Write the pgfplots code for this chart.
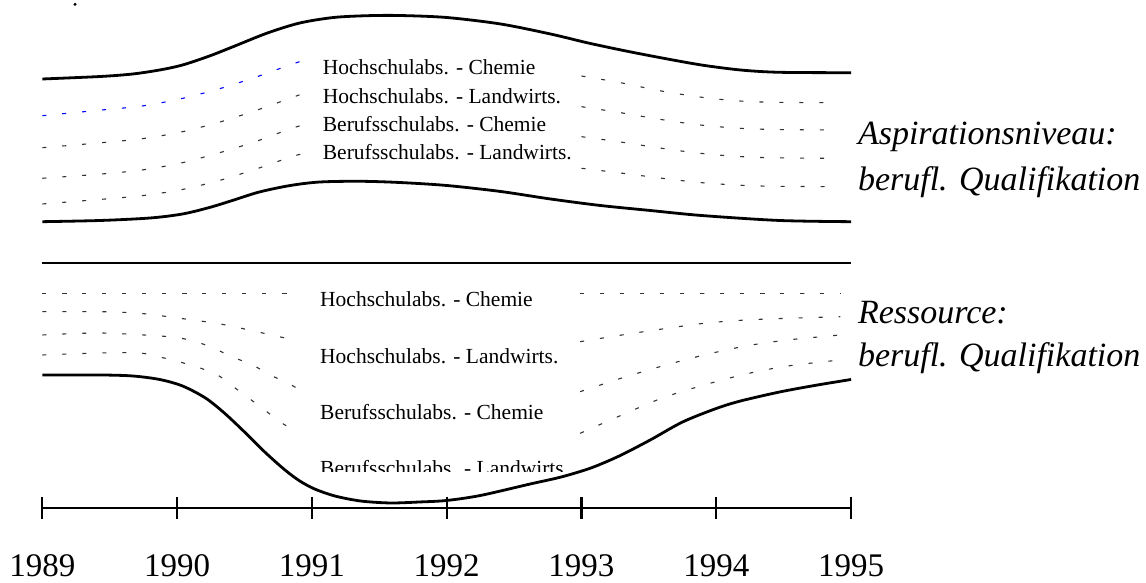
\documentclass[border=0pt]{standalone}
\usepackage{fontspec}
\setmainfont{Liberation Serif}
\usepackage{pgfplots}
\pgfplotsset{compat=1.18}

\pgfplotsset{
  band/.style={black, line width=2.8pt, smooth, no markers},
  row/.style={black!80, line width=1.1pt, dash pattern=on 4pt off 16pt, smooth, no markers},
}
\newcommand{\lab}{\fontsize{21.5}{24}\selectfont}
\newcommand{\biglab}{\fontsize{34}{40}\selectfont\itshape}

\begin{document}
\begin{tikzpicture}
\begin{axis}[
  scale only axis, width=1146pt, height=583pt,
  xmin=1988.686, xmax=1997.188, ymin=0, ymax=583, y dir=reverse,
  hide axis, clip=false,
]
% frame of the page
\addplot[draw=none] coordinates {(1988.686,0) (1997.188,583)};

% --- Aspirationsniveau band ---
\addplot[band] coordinates {
  (1989.00,79) (1989.43,76.5) (1989.67,74) (1989.87,70) (1990.04,65) (1990.24,56)
  (1990.41,47) (1990.67,33) (1990.91,23) (1991.16,17.5) (1991.41,15.7) (1991.65,15.5)
  (1992.00,17.5) (1992.40,24) (1992.77,34) (1993.05,43) (1993.33,51) (1993.61,58.3)
  (1993.89,65) (1994.18,70) (1994.47,72.3) (1995.00,72.7)};
\addplot[band] coordinates {
  (1989.00,221.7) (1989.43,220.5) (1989.80,218) (1990.04,214) (1990.24,207.5) (1990.41,200.5)
  (1990.61,192) (1990.84,185.5) (1991.06,182) (1991.36,181.3) (1991.65,182.5) (1992.00,185.5)
  (1992.40,191.5) (1992.77,199) (1993.14,205.5) (1993.51,210.5) (1993.89,215.5)
  (1994.47,220.5) (1995.00,221.7)};

\addplot[row, blue] coordinates {
  (1989.00,115.7) (1989.44,110) (1989.74,106) (1990.02,99) (1990.30,89.3) (1990.58,77.3) (1990.85,64.3) (1990.99,58.3)};
\addplot[row] coordinates {
  (1989.00,147.7) (1989.44,142.7) (1989.74,138.7) (1990.02,132.3) (1990.30,122.7) (1990.58,110.7) (1990.85,97.7) (1990.99,90.7)};
\addplot[row] coordinates {
  (1989.00,178.3) (1989.44,174) (1989.74,170) (1990.02,163.3) (1990.30,153.3) (1990.58,141.7) (1990.85,128.3) (1990.99,123.3)};
\addplot[row] coordinates {
  (1989.00,204) (1989.44,199.3) (1989.74,195.7) (1990.02,190) (1990.30,181) (1990.58,169.3) (1990.85,156.7) (1990.99,151.7)};

\addplot[row] coordinates {
  (1993.00,76) (1993.29,82.7) (1993.58,90.7) (1993.86,96.7) (1994.14,100.7) (1994.42,102.3) (1994.89,102.7)};
\addplot[row] coordinates {
  (1993.00,106.7) (1993.29,112.7) (1993.58,119.3) (1993.86,124.7) (1994.14,128) (1994.42,129.5) (1994.89,130)};
\addplot[row] coordinates {
  (1993.00,136.7) (1993.29,142) (1993.58,148) (1993.86,153) (1994.14,156.3) (1994.42,157.8) (1994.89,158.3)};
\addplot[row] coordinates {
  (1993.00,168.3) (1993.29,173) (1993.58,178) (1993.86,182.3) (1994.14,185) (1994.42,186.3) (1994.89,186.7)};

% --- Ressource band ---
\addplot[band] coordinates {(1989.00,263) (1995.00,263)};
\addplot[band] coordinates {
  (1989.00,375) (1989.43,375) (1989.67,376) (1989.87,379.5) (1990.04,386) (1990.21,398)
  (1990.35,413) (1990.50,432) (1990.65,452) (1990.80,470) (1990.91,481) (1991.02,489)
  (1991.17,496) (1991.36,501) (1991.58,503) (1991.80,502) (1992.00,500.5) (1992.25,495.5)
  (1992.62,484) (1992.85,477) (1993.07,468) (1993.28,456) (1993.51,440) (1993.75,422)
  (1994.00,408.5) (1994.18,401) (1994.47,392) (1994.73,385.5) (1995.00,379.5)};

\addplot[row] coordinates {(1989.00,293.3) (1990.91,293.3)};
\addplot[row] coordinates {
  (1989.00,311.7) (1989.43,311.7) (1989.72,313.3) (1990.02,318.3) (1990.32,324) (1990.59,331.7) (1990.89,340.7)};
\addplot[row] coordinates {
  (1989.00,335) (1989.43,333) (1989.87,336) (1990.02,338) (1990.17,343) (1990.30,350) (1990.41,357)
  (1990.56,365) (1990.69,375) (1990.82,383) (1990.95,393)};
\addplot[row] coordinates {
  (1989.00,355) (1989.43,353) (1989.72,353) (1989.87,357) (1990.02,362) (1990.17,368) (1990.30,375)
  (1990.41,386) (1990.53,398) (1990.65,410) (1990.76,421.7) (1990.89,431.7)};

\addplot[row] coordinates {(1992.99,293.3) (1994.92,293.3)};
\addplot[row] coordinates {
  (1992.99,341.7) (1993.30,335) (1993.60,329) (1993.91,323.3) (1994.22,320) (1994.53,318.3) (1994.92,316.7)};
\addplot[row] coordinates {
  (1992.99,391.7) (1993.30,378) (1993.60,366) (1993.91,355) (1994.22,346) (1994.53,340) (1994.92,335)};
\addplot[row] coordinates {
  (1992.99,433.3) (1993.30,415) (1993.60,398) (1993.91,385) (1994.22,374) (1994.53,366) (1994.92,360)};

% --- time line ---
\addplot[black, line width=2.3pt] coordinates {(1989,508) (1995,508)};
\addplot[black, only marks, mark=|, mark size=11pt, mark options={line width=2.3pt},
  point meta=explicit symbolic, nodes near coords,
  nodes near coords style={anchor=base, yshift=-69pt, inner sep=0pt, font=\fontsize{33}{38}\selectfont}]
  coordinates {(1989,508)[1989] (1990,508)[1990] (1991,508)[1991] (1992,508)[1992]
               (1993,508)[1993] (1994,508)[1994] (1995,508)[1995]};

\addplot[black, only marks, mark=*, mark size=1.3pt] coordinates {(1989.243,4.3)};

% --- labels ---
\node[anchor=base west, inner sep=0pt, font=\lab] at (axis cs:1991.08,75) {Hochschulabs. - Chemie};
\node[anchor=base west, inner sep=0pt, font=\lab] at (axis cs:1991.08,103.3) {Hochschulabs. - Landwirts.};
\node[anchor=base west, inner sep=0pt, font=\lab] at (axis cs:1991.08,131.7) {Berufsschulabs. - Chemie};
\node[anchor=base west, inner sep=0pt, font=\lab] at (axis cs:1991.08,159.3) {Berufsschulabs. - Landwirts.};

\node[anchor=base west, inner sep=0pt, font=\lab] at (axis cs:1991.06,306.7) {Hochschulabs. - Chemie};
\node[anchor=base west, inner sep=0pt, font=\lab] at (axis cs:1991.06,363.3) {Hochschulabs. - Landwirts.};
\node[anchor=base west, inner sep=0pt, font=\lab] at (axis cs:1991.06,419.3) {Berufsschulabs. - Chemie};
\begin{scope}
\clip (axis cs:1991.0,450) rectangle (axis cs:1993.0,472);
\node[anchor=base west, inner sep=0pt, font=\lab] at (axis cs:1991.06,475.5) {Berufsschulabs. - Landwirts.};
\end{scope}

\node[anchor=base west, inner sep=0pt, font=\biglab] at (axis cs:1995.05,145) {Aspirationsniveau:};
\node[anchor=base west, inner sep=0pt, font=\biglab] at (axis cs:1995.05,191) {berufl. Qualifikation};
\node[anchor=base west, inner sep=0pt, font=\biglab] at (axis cs:1995.05,324) {Ressource:};
\node[anchor=base west, inner sep=0pt, font=\biglab] at (axis cs:1995.05,367) {berufl. Qualifikation};
\end{axis}
\end{tikzpicture}
\end{document}
